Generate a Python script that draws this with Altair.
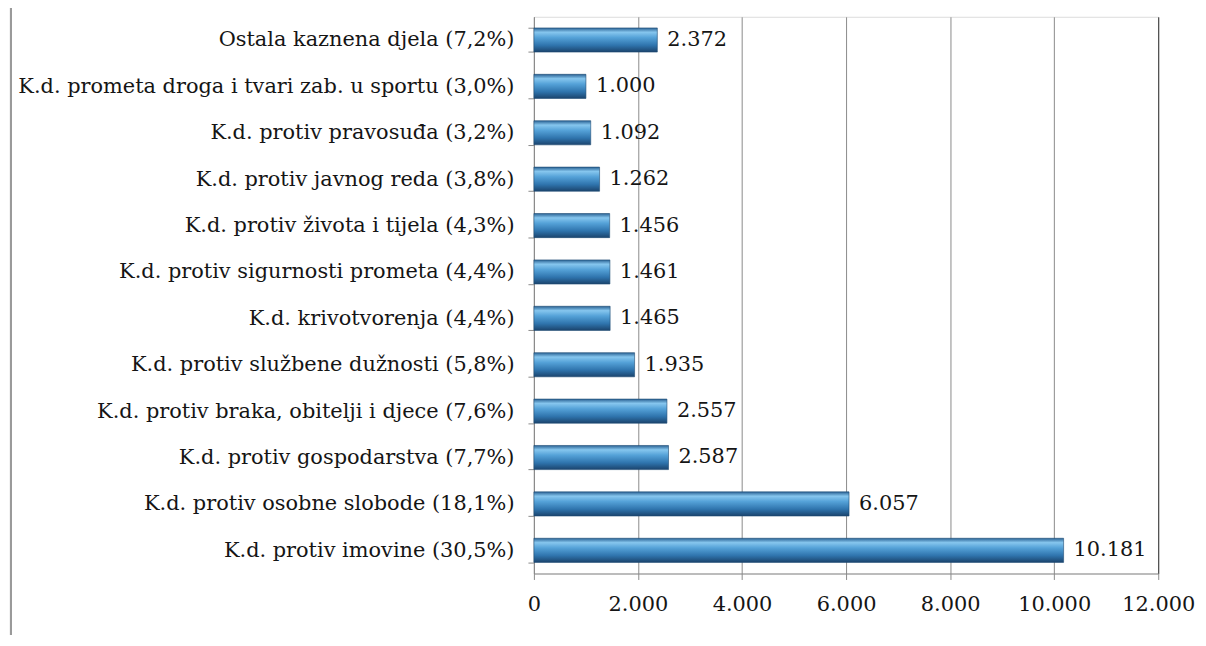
import altair as alt
import pandas as pd

categories = [
    "Ostala kaznena djela (7,2%)",
    "K.d. prometa droga i tvari zab. u sportu (3,0%)",
    "K.d. protiv pravosuđa (3,2%)",
    "K.d. protiv javnog reda (3,8%)",
    "K.d. protiv života i tijela (4,3%)",
    "K.d. protiv sigurnosti prometa (4,4%)",
    "K.d. krivotvorenja (4,4%)",
    "K.d. protiv službene dužnosti (5,8%)",
    "K.d. protiv braka, obitelji i djece (7,6%)",
    "K.d. protiv gospodarstva (7,7%)",
    "K.d. protiv osobne slobode (18,1%)",
    "K.d. protiv imovine (30,5%)",
]
values = [2372, 1000, 1092, 1262, 1456, 1461, 1465, 1935, 2557, 2587, 6057, 10181]
x_ticks = [0, 2000, 4000, 6000, 8000, 10000, 12000]

df = pd.DataFrame({"cat": categories, "val": values})

FONT = "DejaVu Serif"
FS = 21
dot_fmt = "replace(format(datum.value, ','), ',', '.')"

gradient = alt.Gradient(
    gradient="linear",
    stops=[
        alt.GradientStop(color="#2a6294", offset=0),
        alt.GradientStop(color="#86c6ee", offset=0.18),
        alt.GradientStop(color="#55a2d8", offset=0.4),
        alt.GradientStop(color="#2f74ad", offset=0.72),
        alt.GradientStop(color="#1b446d", offset=1),
    ],
    x1=0, x2=0, y1=0, y2=1,
)

y_enc = alt.Y(
    "cat:N",
    sort=categories,
    scale=alt.Scale(paddingInner=0.48, paddingOuter=0.24),
    axis=alt.Axis(
        title=None,
        labelFont=FONT,
        labelFontSize=FS,
        labelColor="#151515",
        labelLimit=0,
        tickBand="extent",
        tickSize=6,
        tickColor="#8a8a8a",
        domainColor="#8a8a8a",
        labelPadding=14,
    ),
)
x_enc = alt.X(
    "val:Q",
    scale=alt.Scale(domain=[0, 12000], nice=False),
    axis=alt.Axis(
        title=None,
        values=x_ticks,
        labelExpr=dot_fmt,
        labelFont=FONT,
        labelFontSize=FS,
        labelColor="#151515",
        labelOverlap=False,
        labelBound=False,
        labelFlush=False,
        grid=True,
        gridColor={"condition": {"test": "datum.value === 12000", "value": "#2a2a2a"}, "value": "#8a8a8a"},
        gridWidth=1,
        tickSize=6,
        tickColor="#8a8a8a",
        domainColor="#8a8a8a",
        labelPadding=14,
    ),
)

bars = alt.Chart(df).mark_bar(
    color=gradient, stroke="#1d4a72", strokeWidth=0.6
).encode(y=y_enc, x=x_enc)

labels = alt.Chart(df).transform_calculate(
    lbl="replace(format(datum.val, ','), ',', '.')"
).mark_text(
    align="left", baseline="middle", dx=10, font=FONT, fontSize=FS, color="#151515"
).encode(y=alt.Y("cat:N", sort=categories), x=alt.X("val:Q"), text="lbl:N")

frame = alt.Chart(df).mark_rule(color="#9a9a9a", strokeWidth=2).encode(
    x=alt.value(-526), y=alt.value(-15), y2=alt.value(625)
)

chart = alt.layer(bars, labels, frame).properties(
    width=628, height=560,
    autosize=alt.AutoSizeParams(type="none"),
    padding={"left": 529, "top": 7, "right": 40, "bottom": 60},
).configure_view(stroke="#2a2a2a", strokeWidth=1.5).configure(background="white")

chart.save("out.html", embed_options={"renderer": "svg", "actions": False})
